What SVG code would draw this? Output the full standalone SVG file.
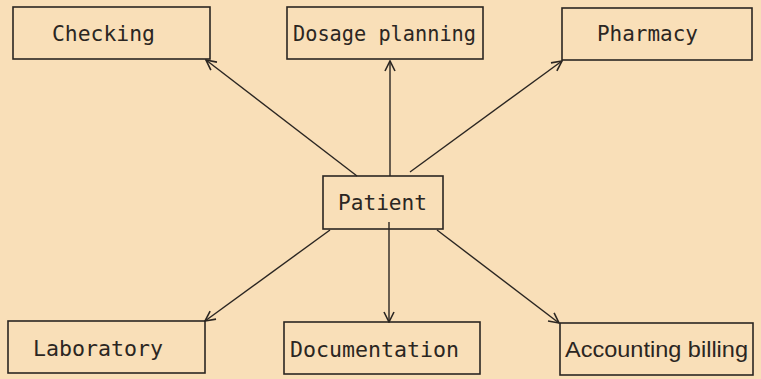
<svg xmlns="http://www.w3.org/2000/svg" width="761" height="379" viewBox="0 0 761 379">
<style>
.box{fill:none;stroke:#2b2622;stroke-width:1.6}
.lbl{font-family:"DejaVu Sans Mono","Liberation Mono",monospace;font-size:22px;fill:#2b2622;text-anchor:start}
.narrow{font-family:"Liberation Sans",Arial,sans-serif}
.edge{stroke:#2b2622;stroke-width:1.4;fill:none;marker-end:url(#arr)}
</style>
<defs>
<marker id="arr" viewBox="0 0 12 12" refX="11" refY="6" markerWidth="12" markerHeight="12" markerUnits="userSpaceOnUse" orient="auto">
<path d="M1,1 L11,6 L1,11" fill="none" stroke="#2b2622" stroke-width="1.6"/>
</marker>
</defs>
<rect width="761" height="379" fill="#f9dfb8"/>
<g id="connectors">
<line class="edge" x1="357" y1="176" x2="206" y2="60"/>
<line class="edge" x1="390" y1="176" x2="390" y2="61"/>
<line class="edge" x1="410" y1="172" x2="562" y2="61"/>
<line class="edge" x1="330" y1="230" x2="205" y2="321"/>
<line class="edge" x1="389" y1="222" x2="389" y2="322"/>
<line class="edge" x1="437" y1="230" x2="559" y2="323"/>
</g>
<g id="checking">
<rect class="box" x="13" y="7" width="197" height="52"/>
<text class="lbl" x="52" y="41" textLength="103" lengthAdjust="spacingAndGlyphs">Checking</text>
</g>
<g id="dosage">
<rect class="box" x="287" y="7" width="196" height="52"/>
<text class="lbl" x="293" y="41" textLength="183" lengthAdjust="spacingAndGlyphs">Dosage planning</text>
</g>
<g id="pharmacy">
<rect class="box" x="562" y="8" width="190" height="52"/>
<text class="lbl" x="597" y="41" textLength="101" lengthAdjust="spacingAndGlyphs">Pharmacy</text>
</g>
<g id="patient">
<rect class="box" x="323" y="176" width="120" height="53"/>
<text class="lbl" x="338" y="210" textLength="89" lengthAdjust="spacingAndGlyphs">Patient</text>
</g>
<g id="laboratory">
<rect class="box" x="8" y="321" width="197" height="52"/>
<text class="lbl" x="33" y="356" textLength="130" lengthAdjust="spacingAndGlyphs">Laboratory</text>
</g>
<g id="documentation">
<rect class="box" x="284" y="322" width="196" height="52"/>
<text class="lbl" x="290" y="357" textLength="169" lengthAdjust="spacingAndGlyphs">Documentation</text>
</g>
<g id="accounting">
<rect class="box" x="560" y="323" width="193" height="52"/>
<text class="lbl narrow" x="565" y="357" textLength="183" lengthAdjust="spacingAndGlyphs">Accounting billing</text>
</g>
</svg>
